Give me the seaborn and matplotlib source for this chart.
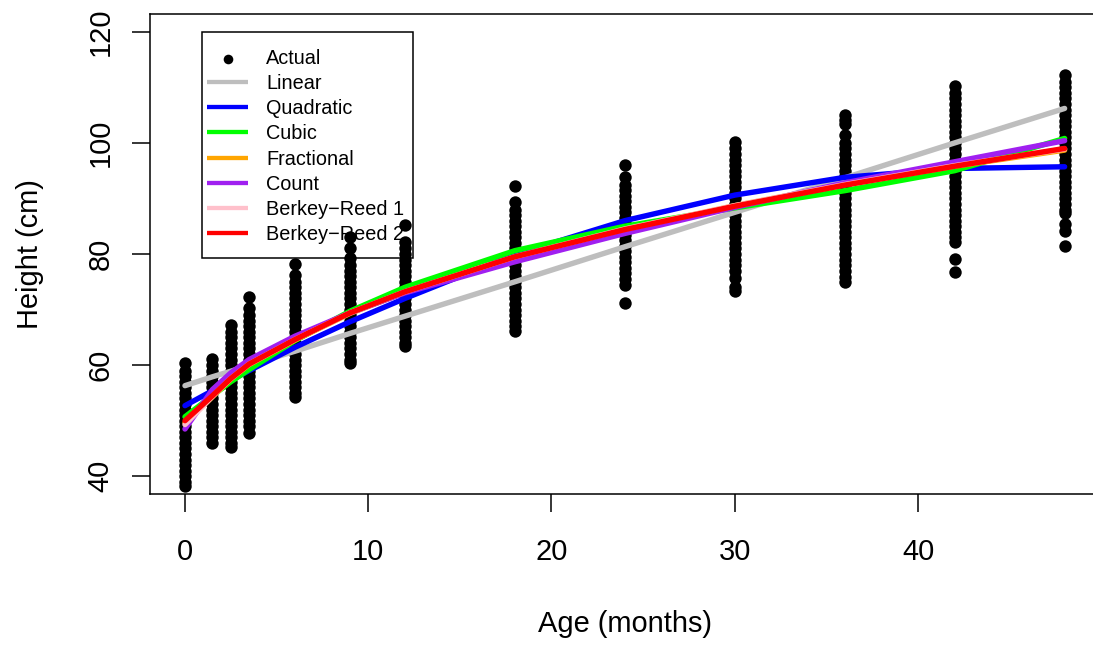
import numpy as np
import pandas as pd
import matplotlib
matplotlib.use("Agg")
import matplotlib.pyplot as plt
import matplotlib.patches as mpatches
import seaborn as sns

# ---------------- data ----------------
ages = [0, 1.5, 2.5, 3.5, 6, 9, 12, 18, 24, 30, 36, 42, 48]

h_0 = [38.2, 39, 40, 41, 42, 43, 44, 45, 46, 47, 48, 49, 50, 51, 52, 53, 54, 55, 56, 57, 58, 59, 60.4]
h_1_5 = [46.0, 47, 48, 49, 50, 51, 52, 53, 54, 55, 56, 57, 58, 59, 60, 61.1]
h_2_5 = [45.3, 46, 47, 48, 49, 50, 51, 52, 53, 54, 55, 56, 57, 58, 59, 60, 61, 62, 63, 64, 65, 66, 67.3]
h_3_5 = [47.8, 49, 50, 51, 52, 53, 54, 55, 56, 57, 58, 59, 60, 61, 62, 63, 64, 65, 66, 67, 68, 69, 70.3, 72.2]
h_6 = [54.3, 55, 56, 57, 58, 59, 60, 61, 62, 63, 64, 65, 66, 67, 68, 69, 70, 71, 72, 73, 74, 75, 76.2, 78.2]
h_9 = [60.4, 61, 62, 63, 64, 65, 66, 67, 68, 69, 70, 71, 72, 73, 74, 75, 76, 77, 78, 79.2, 81.1, 83.0]
h_12 = [63.4, 64, 65, 66, 67, 68, 69, 70, 71, 72, 73, 74, 75, 76, 77, 78, 79, 80, 81, 82.2, 85.2]
h_18 = [66.1, 67, 68, 69, 70, 71, 72, 73, 74, 75, 76, 77, 78, 79, 80, 81, 82, 83, 84, 85, 86, 87, 88,
        89.4, 92.2]
h_24 = [71.1, 74.5, 75.5, 76.5, 77.5, 78.5, 79.5, 80.5, 81.5, 82.5, 83.5, 84.5, 85.5, 86.5, 87.5, 88.5,
        89.5, 90.5, 91.5, 92.5, 93.9, 96.1]
h_30 = [73.3, 74.1, 75.7, 77, 78, 79, 80, 81, 82, 83, 84, 85, 86, 87, 88, 89, 90, 91, 92, 93, 94, 95,
        96, 97, 98, 99, 100.2]
h_36 = [75.0, 75.9, 77.0, 78, 79, 80, 81, 82, 83, 84, 85, 86, 87, 88, 89, 90, 91, 92, 93, 94, 95, 96,
        97, 98, 99, 100, 101.4, 103.4, 104.2, 105.0]
h_42 = [76.7, 79.1, 82.1, 83.0, 84, 85, 86, 87, 88, 89, 90, 91, 92, 93, 94, 95, 96, 97, 98, 99, 100,
        101, 102, 103, 104, 105, 106, 107, 108, 109, 110.3]
h_48 = [81.4, 84.2, 85.4, 87.4, 88, 89, 90, 91, 92, 93, 94, 95, 96, 97, 98, 99, 100, 101, 102, 103,
        104, 105, 106, 107, 108, 109, 110, 111, 112.3]

heights_by_age = [h_0, h_1_5, h_2_5, h_3_5, h_6, h_9, h_12, h_18, h_24, h_30, h_36, h_42, h_48]

fit_linear = [56.3, 57.9, 58.9, 60.0, 62.5, 65.7, 68.8, 75.0, 81.3, 87.5, 93.7, 100.0, 106.2]
fit_quadratic = [52.7, 55.4, 57.3, 59.0, 63.2, 67.8, 72.0, 79.9, 86.0, 90.6, 93.8, 95.4, 95.7]
fit_cubic = [50.7, 54.5, 57.0, 59.2, 64.4, 69.7, 74.0, 80.6, 85.0, 88.3, 91.4, 95.0, 100.8]
fit_fractional = [49.6, 54.3, 57.5, 60.1, 64.5, 69.3, 73.1, 79.4, 84.4, 88.7, 92.5, 95.8, 98.7]
fit_count = [48.5, 55.6, 58.6, 61.0, 65.2, 69.4, 73.0, 78.6, 83.7, 88.4, 92.8, 96.6, 100.4]
fit_br1 = [49.3, 54.4, 57.6, 60.2, 64.6, 69.4, 73.2, 79.5, 84.5, 88.7, 92.5, 95.9, 98.9]
fit_br2 = [50.0, 54.5, 57.6, 60.2, 64.6, 69.4, 73.2, 79.5, 84.4, 88.6, 92.4, 95.8, 99.0]

model_names = ["Linear", "Quadratic", "Cubic", "Fractional", "Count",
               "Berkey\u2212Reed 1", "Berkey\u2212Reed 2"]
model_fits = [fit_linear, fit_quadratic, fit_cubic, fit_fractional, fit_count, fit_br1, fit_br2]
model_colors = ["#BEBEBE", "#0000FF", "#00FF00", "#FFA500", "#A020F0", "#FFC0CB", "#FF0000"]

x_ticks = [0, 10, 20, 30, 40]
y_ticks = [40, 60, 80, 100, 120]

# ---------------- figure ----------------
sns.set_style("white")
plt.rcParams["font.family"] = ["Liberation Sans", "DejaVu Sans"]

W, H, DPI = 1093, 645, 100
fig = plt.figure(figsize=(W / DPI, H / DPI), dpi=DPI)

ax_l, ax_r, ax_t, ax_b = 149.8, 1099.8, 14, 494
ax = fig.add_axes([ax_l / W, 1 - ax_b / H, (ax_r - ax_l) / W, (ax_b - ax_t) / H])

pts = pd.DataFrame({
    "age": np.concatenate([[a] * len(h) for a, h in zip(ages, heights_by_age)]),
    "height": np.concatenate(heights_by_age),
})

sns.scatterplot(data=pts, x="age", y="height", color="black", s=80, linewidth=0,
                label="Actual", ax=ax, zorder=2)

for name, fit, col in zip(model_names, model_fits, model_colors):
    sns.lineplot(x=ages, y=fit, color=col, linewidth=3.9, label=name, ax=ax,
                 zorder=3, solid_capstyle="round", solid_joinstyle="round")

ax.set_xlim(-1.92, 49.92)
ax.set_ylim(36.8, 123.2)
ax.set_xticks(x_ticks)
ax.set_yticks(y_ticks)
ax.set_xticklabels([str(v) for v in x_ticks])
ax.set_yticklabels([str(v) for v in y_ticks], rotation=90, va="center")

for s in ax.spines.values():
    s.set_visible(True)
    s.set_color("black")
    s.set_linewidth(1.1)

ax.tick_params(axis="both", which="major", direction="out", length=13, width=1.1,
               color="black", labelsize=20.9, labelcolor="black")
ax.tick_params(axis="x", pad=18.5)
ax.tick_params(axis="y", pad=12.5)
ax.tick_params(left=True, bottom=True, right=False, top=False)

ax.set_xlabel("Age (months)", fontsize=20.9, color="black")
ax.set_ylabel("Height (cm)", fontsize=20.9, color="black")
ax.xaxis.set_label_coords(0.5, -0.242)
ax.yaxis.set_label_coords(-0.1116, 0.5)

# legend
handles, labels = ax.get_legend_handles_labels()
leg = ax.legend(handles, labels, loc="upper left",
                bbox_to_anchor=(206.7 / W, 1 - 48.9 / H), bbox_transform=fig.transFigure,
                frameon=False, borderpad=0, fontsize=14.3, handlelength=2.1,
                handletextpad=0.89, labelspacing=0.31, borderaxespad=0,
                labelcolor="black")
leg.set_zorder(1.5)
for hnd in leg.legend_handles:
    if hasattr(hnd, "set_sizes"):
        hnd.set_sizes([48])
    else:
        hnd.set_linewidth(3.1)
        hnd.set_solid_capstyle("butt")

frame = mpatches.Rectangle((202.3 / W, 1 - 258.3 / H), 210.4 / W, 226 / H,
                           transform=fig.transFigure, fill=False, edgecolor="black",
                           linewidth=1.1, zorder=1.5)
ax.add_patch(frame)

fig.savefig("out.png", dpi=DPI)
